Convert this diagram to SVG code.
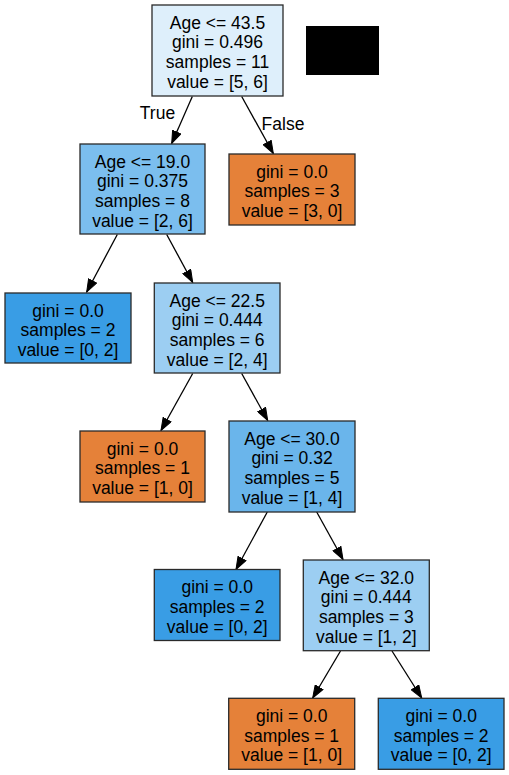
<svg xmlns="http://www.w3.org/2000/svg" width="509" height="775" viewBox="0 0 509 775">
<style>
.n rect{stroke:#2a2a2a;stroke-width:1.3}
text{font-family:"Liberation Sans",Arial,Helvetica,sans-serif;font-size:17.5px;fill:#000;text-anchor:middle}
.e line{stroke:#000;stroke-width:1.3}
.orange{fill:#e58139}.blue{fill:#399de5}
</style>
<defs>
<marker id="ah" markerUnits="userSpaceOnUse" markerWidth="14" markerHeight="10" viewBox="0 -5 13 10" refX="12.5" refY="0" orient="auto">
<path d="M0,-4.5 L12.5,0 L0,4.5 z" fill="#000" stroke="#000" stroke-width="1"/>
</marker>
</defs>
<rect x="0" y="0" width="509" height="775" fill="#fff"/>
<rect x="306" y="26" width="73" height="49" fill="#000"/>
<g class="e">
<line x1="192.3" y1="96.5" x2="171.7" y2="143.5" marker-end="url(#ah)"/>
<line x1="241.7" y1="96.5" x2="273.3" y2="153.5" marker-end="url(#ah)"/>
<line x1="117.3" y1="234.5" x2="86.7" y2="292" marker-end="url(#ah)"/>
<line x1="166.7" y1="234.5" x2="192.7" y2="282.5" marker-end="url(#ah)"/>
<line x1="192.7" y1="373.5" x2="161" y2="430.5" marker-end="url(#ah)"/>
<line x1="241.7" y1="373.5" x2="267.7" y2="420.5" marker-end="url(#ah)"/>
<line x1="267.3" y1="512" x2="236" y2="569.5" marker-end="url(#ah)"/>
<line x1="316.7" y1="512" x2="343" y2="559.5" marker-end="url(#ah)"/>
<line x1="340.5" y1="651" x2="312.7" y2="698" marker-end="url(#ah)"/>
<line x1="392" y1="651" x2="421.7" y2="698" marker-end="url(#ah)"/>
<text x="157.5" y="119.3">True</text>
<text x="283" y="129.5">False</text>
</g>
<g id="node0" class="n">
<rect x="152" y="5" width="131" height="91" fill="#deeffb"/>
<text x="217.5" y="28.7">Age &lt;= 43.5</text>
<text x="217.5" y="48.4">gini = 0.496</text>
<text x="217.5" y="68.1">samples = 11</text>
<text x="217.5" y="87.8">value = [5, 6]</text>
</g>
<g id="node1" class="n">
<rect x="80" y="144" width="125" height="90" fill="#7bbeee"/>
<text x="142.5" y="167.6">Age &lt;= 19.0</text>
<text x="142.5" y="187.3">gini = 0.375</text>
<text x="142.5" y="207">samples = 8</text>
<text x="142.5" y="226.7">value = [2, 6]</text>
</g>
<g id="node2" class="n">
<rect x="229" y="154" width="126" height="71" class="orange"/>
<text x="292" y="177.7">gini = 0.0</text>
<text x="292" y="197.4">samples = 3</text>
<text x="292" y="217.1">value = [3, 0]</text>
</g>
<g id="node3" class="n">
<rect x="5" y="293" width="126" height="70" class="blue"/>
<text x="68" y="316.6">gini = 0.0</text>
<text x="68" y="336.3">samples = 2</text>
<text x="68" y="356">value = [0, 2]</text>
</g>
<g id="node4" class="n">
<rect x="154.3" y="283" width="125.7" height="90" fill="#9ccef2"/>
<text x="217.2" y="306.6">Age &lt;= 22.5</text>
<text x="217.2" y="326.3">gini = 0.444</text>
<text x="217.2" y="346">samples = 6</text>
<text x="217.2" y="365.7">value = [2, 4]</text>
</g>
<g id="node5" class="n">
<rect x="80" y="431" width="125" height="71" class="orange"/>
<text x="142.5" y="454.7">gini = 0.0</text>
<text x="142.5" y="474.4">samples = 1</text>
<text x="142.5" y="494.1">value = [1, 0]</text>
</g>
<g id="node6" class="n">
<rect x="229" y="421" width="126" height="91" fill="#6ab5eb"/>
<text x="292" y="444.6">Age &lt;= 30.0</text>
<text x="292" y="464.3">gini = 0.32</text>
<text x="292" y="484">samples = 5</text>
<text x="292" y="503.7">value = [1, 4]</text>
</g>
<g id="node7" class="n">
<rect x="154.3" y="569.5" width="125.7" height="71" class="blue"/>
<text x="217.2" y="593.2">gini = 0.0</text>
<text x="217.2" y="612.9">samples = 2</text>
<text x="217.2" y="632.6">value = [0, 2]</text>
</g>
<g id="node8" class="n">
<rect x="303.3" y="560" width="126" height="90.7" fill="#9ccef2"/>
<text x="366.3" y="583.6">Age &lt;= 32.0</text>
<text x="366.3" y="603.3">gini = 0.444</text>
<text x="366.3" y="623">samples = 3</text>
<text x="366.3" y="642.7">value = [1, 2]</text>
</g>
<g id="node9" class="n">
<rect x="228.7" y="698.3" width="126" height="71" class="orange"/>
<text x="291.7" y="722">gini = 0.0</text>
<text x="291.7" y="741.7">samples = 1</text>
<text x="291.7" y="761.4">value = [1, 0]</text>
</g>
<g id="node10" class="n">
<rect x="378.3" y="698.3" width="125.7" height="71" class="blue"/>
<text x="441.2" y="722">gini = 0.0</text>
<text x="441.2" y="741.7">samples = 2</text>
<text x="441.2" y="761.4">value = [0, 2]</text>
</g>
</svg>
